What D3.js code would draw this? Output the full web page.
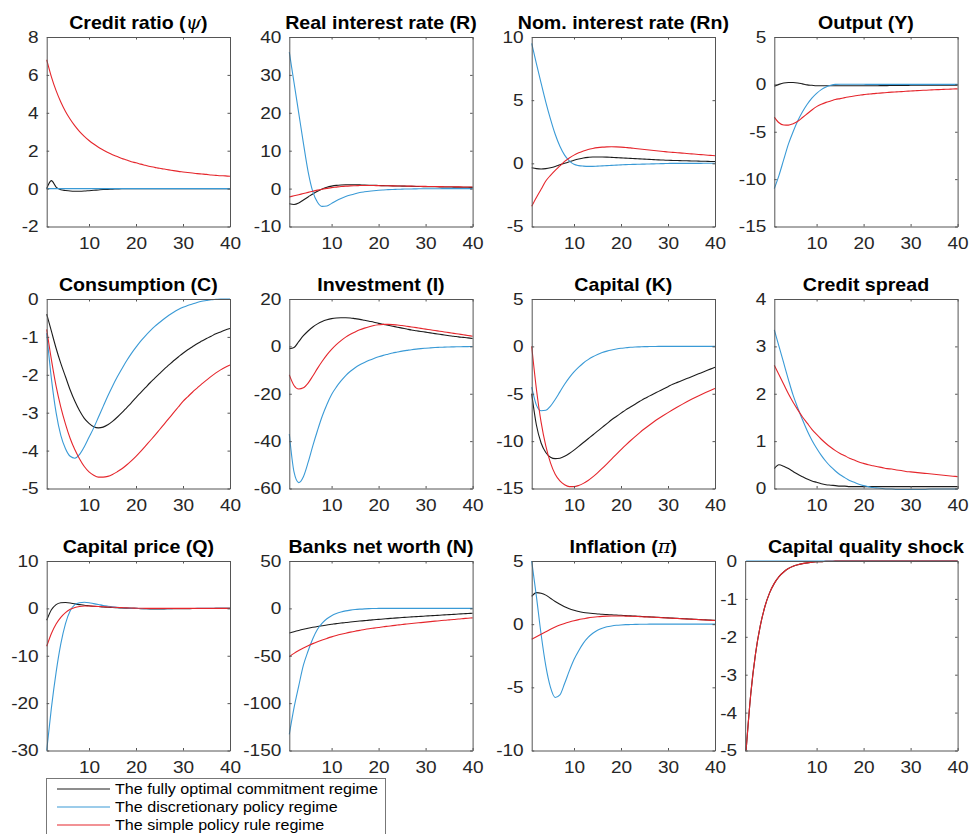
<!DOCTYPE html>
<html><head><meta charset="utf-8">
<script src="https://cdn.jsdelivr.net/npm/d3@7"></script>
<style>body{margin:0;background:#fff} svg{display:block}</style>
</head><body><svg id="c" width="973" height="834"></svg>
<script>
// ---------------- DATA ----------------
const periods = d3.range(1, 41);
const shockPeriods = d3.range(-5, 41);
const regimeNames = ["The fully optimal commitment regime", "The discretionary policy regime", "The simple policy rule regime"];
const xTicks = [10, 20, 30, 40];

// Credit ratio (psi)
const credit_commit = [0.00,0.42,0.08,-0.06,-0.10,-0.13,-0.14,-0.14,-0.13,-0.11, -0.09,-0.07,-0.05,-0.04,-0.03,-0.02,-0.01,-0.01,0,0, 0,0,0,0,0,0,0,0,0,0, 0,0,0,0,0,0,0,0,0,0];
const credit_disc   = [0,0,0,0,0,0,0,0,0,0, 0,0,0,0,0,0,0,0,0,0, 0,0,0,0,0,0,0,0,0,0, 0,0,0,0,0,0,0,0,0,0];
const credit_rule   = [6.80,5.90,5.17,4.57,4.07,3.66,3.31,3.01,2.76,2.54, 2.35,2.18,2.04,1.91,1.79,1.69,1.59,1.51,1.42,1.36, 1.29,1.23,1.17,1.12,1.07,1.03,0.99,0.95,0.91,0.88, 0.85,0.82,0.79,0.77,0.75,0.72,0.70,0.68,0.67,0.65];
const credit_ticks  = [-2,0,2,4,6,8];

// Real interest rate (R)
const real_commit = [-4.0,-4.2,-3.8,-3.0,-2.2,-1.4,-0.7,-0.1,0.35,0.65, 0.85,0.95,1.0,1.0,1.0,0.98,0.95,0.9,0.86,0.82, 0.78,0.75,0.72,0.69,0.66,0.63,0.6,0.57,0.54,0.52, 0.5,0.48,0.46,0.44,0.42,0.4,0.38,0.36,0.34,0.32];
const real_disc   = [36,28,20,12,4.5,-0.8,-3.6,-4.7,-4.6,-3.9, -3.2,-2.6,-2.1,-1.7,-1.35,-1.05,-0.85,-0.68,-0.55,-0.44, -0.35,-0.28,-0.22,-0.18,-0.14,-0.11,-0.09,-0.07,-0.05,-0.04, -0.03,-0.02,-0.02,-0.01,-0.01,0,0,0,0,0];
const real_rule   = [-2.2,-1.9,-1.6,-1.3,-1.0,-0.7,-0.4,-0.15,0.05,0.25, 0.4,0.55,0.65,0.72,0.77,0.8,0.81,0.81,0.8,0.78, 0.76,0.74,0.72,0.7,0.68,0.66,0.64,0.62,0.6,0.58, 0.56,0.54,0.52,0.5,0.48,0.47,0.45,0.44,0.42,0.41];
const real_ticks  = [-10,0,10,20,30,40];

// Nominal interest rate (Rn)
const nom_commit = [-0.35,-0.42,-0.45,-0.42,-0.35,-0.25,-0.12,0.0,0.12,0.24, 0.34,0.42,0.47,0.5,0.5,0.5,0.49,0.47,0.45,0.43, 0.41,0.39,0.37,0.35,0.33,0.31,0.29,0.27,0.26,0.24, 0.23,0.22,0.21,0.2,0.19,0.18,0.17,0.16,0.15,0.14];
const nom_disc   = [9.5,7.9,6.35,4.85,3.5,2.3,1.35,0.65,0.2,-0.08, -0.18,-0.22,-0.24,-0.24,-0.22,-0.2,-0.18,-0.16,-0.14,-0.12, -0.1,-0.09,-0.08,-0.07,-0.06,-0.05,-0.04,-0.03,-0.02,-0.01, 0,0,0,0,0,0,0,0.01,0.01,0.01];
const nom_rule   = [-3.4,-2.7,-2.05,-1.4,-0.95,-0.55,-0.2,0.15,0.42,0.65, 0.83,0.98,1.1,1.18,1.24,1.28,1.3,1.31,1.3,1.28, 1.25,1.22,1.18,1.14,1.1,1.06,1.02,0.98,0.94,0.9, 0.87,0.84,0.81,0.78,0.75,0.72,0.69,0.66,0.63,0.6];
const nom_ticks  = [-5,0,5,10];

// Output (Y)
const out_commit = [-0.2,0.0,0.15,0.2,0.2,0.15,0.05,-0.05,-0.1,-0.15, -0.15,-0.15,-0.15,-0.15,-0.15,-0.15,-0.15,-0.15,-0.15,-0.15, -0.15,-0.14,-0.14,-0.13,-0.13,-0.12,-0.12,-0.11,-0.11,-0.1, -0.1,-0.1,-0.1,-0.09,-0.09,-0.09,-0.09,-0.08,-0.08,-0.08];
const out_disc   = [-11.0,-9.6,-7.95,-6.3,-5.0,-3.85,-2.9,-2.1,-1.45,-0.95, -0.55,-0.28,-0.1,0.0,0.02,0.02,0.02,0.01,0.01,0.01, 0,0,0,0,0,0,0,0,0,0, 0,0,0,0,0,0,0,0,0,0];
const out_rule   = [-3.45,-4.05,-4.28,-4.3,-4.15,-3.9,-3.5,-3.1,-2.7,-2.35, -2.1,-1.9,-1.75,-1.6,-1.5,-1.4,-1.3,-1.22,-1.15,-1.08, -1.03,-0.98,-0.94,-0.9,-0.86,-0.82,-0.79,-0.76,-0.73,-0.7, -0.67,-0.64,-0.62,-0.6,-0.57,-0.55,-0.53,-0.51,-0.49,-0.47];
const out_ticks  = [-15,-10,-5,0,5];

// Consumption (C)
const cons_commit = [-0.4,-0.85,-1.3,-1.7,-2.05,-2.4,-2.7,-2.95,-3.15,-3.28, -3.37,-3.4,-3.38,-3.32,-3.23,-3.12,-3.0,-2.87,-2.74,-2.6, -2.47,-2.34,-2.21,-2.09,-1.97,-1.85,-1.74,-1.63,-1.53,-1.43, -1.34,-1.26,-1.18,-1.11,-1.04,-0.98,-0.92,-0.87,-0.82,-0.78];
const cons_disc   = [-0.9,-2.1,-3.0,-3.6,-3.95,-4.15,-4.2,-4.1,-3.9,-3.65, -3.4,-3.12,-2.84,-2.56,-2.3,-2.06,-1.84,-1.63,-1.44,-1.27, -1.11,-0.97,-0.84,-0.72,-0.62,-0.52,-0.43,-0.35,-0.28,-0.22, -0.17,-0.13,-0.09,-0.06,-0.04,-0.02,-0.01,0,0,0];
const cons_rule   = [-0.8,-1.6,-2.3,-2.85,-3.3,-3.68,-3.98,-4.22,-4.42,-4.56, -4.65,-4.7,-4.7,-4.68,-4.63,-4.56,-4.48,-4.38,-4.27,-4.15, -4.02,-3.88,-3.74,-3.6,-3.45,-3.3,-3.15,-3.0,-2.85,-2.7, -2.58,-2.46,-2.35,-2.24,-2.14,-2.04,-1.95,-1.87,-1.8,-1.74];
const cons_ticks  = [-5,-4,-3,-2,-1,0];

// Investment (I)
const inv_commit = [-1,-0.5,2,4.5,6.5,8.2,9.5,10.5,11.2,11.7, 12.0,12.1,12.1,12.0,11.7,11.4,11.0,10.6,10.2,9.7, 9.3,8.9,8.5,8.1,7.7,7.3,6.9,6.6,6.3,6.0, 5.7,5.4,5.1,4.8,4.5,4.3,4.0,3.8,3.6,3.3];
const inv_disc   = [-37,-53,-57.5,-55,-49,-42,-35.5,-29.5,-24.5,-20.3, -17.2,-14.6,-12.3,-10.5,-9.0,-7.8,-6.8,-5.9,-5.1,-4.4, -3.8,-3.3,-2.8,-2.4,-2.0,-1.7,-1.4,-1.15,-0.95,-0.78, -0.63,-0.5,-0.4,-0.32,-0.25,-0.2,-0.15,-0.12,-0.09,-0.07];
const inv_rule   = [-12,-16.5,-18,-17.5,-15.5,-12.5,-9.3,-6.3,-3.6,-1.3, 0.7,2.4,3.9,5.1,6.1,7.0,7.7,8.3,8.8,9.1, 9.3,9.3,9.2,9.0,8.8,8.5,8.2,7.9,7.6,7.3, 7.0,6.7,6.4,6.1,5.8,5.5,5.2,4.9,4.6,4.3];
const inv_ticks  = [-60,-40,-20,0,20];

// Capital (K)
const cap_commit = [-5,-8.3,-10.2,-11.2,-11.7,-11.85,-11.8,-11.6,-11.3,-10.95, -10.55,-10.15,-9.75,-9.35,-8.95,-8.55,-8.15,-7.75,-7.4,-7.05, -6.7,-6.4,-6.1,-5.8,-5.5,-5.25,-5.0,-4.75,-4.5,-4.25, -4.0,-3.8,-3.6,-3.4,-3.2,-3.0,-2.8,-2.6,-2.4,-2.2];
const cap_disc   = [-4.3,-6.2,-6.8,-6.75,-6.3,-5.6,-4.8,-4.0,-3.3,-2.7, -2.2,-1.75,-1.4,-1.1,-0.85,-0.65,-0.5,-0.38,-0.28,-0.2, -0.15,-0.1,-0.07,-0.05,-0.03,-0.02,-0.01,0,0,0, 0,0,0,0,0,0,0,0,0,0];
const cap_rule   = [0,-4.5,-8.0,-10.5,-12.3,-13.5,-14.2,-14.6,-14.8,-14.8, -14.68,-14.46,-14.16,-13.78,-13.35,-12.88,-12.39,-11.89,-11.39,-10.9, -10.42,-9.96,-9.52,-9.10,-8.70,-8.32,-7.96,-7.62,-7.30,-6.99, -6.69,-6.40,-6.12,-5.85,-5.59,-5.34,-5.10,-4.87,-4.65,-4.44];
const cap_ticks  = [-15,-10,-5,0,5];

// Credit spread
const spread_commit = [0.42,0.5,0.47,0.42,0.36,0.3,0.25,0.2,0.16,0.13, 0.1,0.08,0.07,0.06,0.05,0.05,0.04,0.04,0.04,0.04, 0.04,0.04,0.04,0.04,0.04,0.04,0.04,0.04,0.04,0.04, 0.04,0.04,0.04,0.04,0.04,0.04,0.04,0.04,0.04,0.04];
const spread_disc   = [3.35,3.0,2.65,2.3,1.97,1.7,1.45,1.22,1.02,0.85, 0.7,0.57,0.46,0.37,0.29,0.23,0.17,0.13,0.09,0.06, 0.04,0.02,0.01,0.0,-0.01,-0.01,-0.02,-0.02,-0.02,-0.02, -0.02,-0.02,-0.02,-0.01,-0.01,-0.01,-0.01,-0.01,-0.01,-0.01];
const spread_rule   = [2.6,2.4,2.2,2.0,1.82,1.66,1.51,1.38,1.25,1.14, 1.04,0.95,0.87,0.8,0.74,0.69,0.64,0.6,0.56,0.53, 0.5,0.48,0.46,0.44,0.42,0.41,0.39,0.38,0.36,0.35, 0.34,0.33,0.32,0.31,0.3,0.29,0.28,0.27,0.26,0.25];
const spread_ticks  = [0,1,2,3,4];

// Capital price (Q)
const q_commit = [-2.5,-0.3,0.8,1.2,1.25,1.15,0.95,0.8,0.65,0.55, 0.45,0.38,0.3,0.24,0.18,0.13,0.09,0.05,0.02,0, -0.05,-0.08,-0.1,-0.1,-0.1,-0.1,-0.09,-0.08,-0.07,-0.06, -0.05,-0.04,-0.03,-0.03,-0.02,-0.02,-0.01,-0.01,-0.01,0];
const q_disc   = [-30,-21,-13.5,-7.5,-3.2,-0.5,0.8,1.2,1.3,1.2, 1.0,0.8,0.6,0.45,0.32,0.22,0.14,0.08,0.04,0.0, -0.03,-0.05,-0.06,-0.06,-0.06,-0.05,-0.05,-0.04,-0.03,-0.03, -0.02,-0.02,-0.01,-0.01,-0.01,0,0,0,0,0];
const q_rule   = [-8,-5.3,-3.3,-1.9,-0.9,-0.2,0.2,0.4,0.5,0.5, 0.45,0.4,0.35,0.3,0.25,0.2,0.15,0.1,0.07,0.04, 0.02,0,0,0,0,0,0,0,0,0, 0,0,0,0,0,0,0,0,0,0];
const q_ticks  = [-30,-20,-10,0,10];

// Banks net worth (N)
const nw_commit = [-26,-24.6,-23.3,-22.1,-21,-20,-19.1,-18.3,-17.5,-16.8, -16.1,-15.5,-14.9,-14.4,-13.9,-13.4,-12.9,-12.4,-12,-11.6, -11.2,-10.8,-10.4,-10.0,-9.7,-9.3,-9.0,-8.7,-8.4,-8.1, -7.8,-7.5,-7.2,-6.9,-6.6,-6.3,-6.0,-5.7,-5.4,-5.1];
const nw_disc   = [-133,-105,-82,-60,-45,-32,-22,-15.5,-11,-7.7, -5.4,-3.8,-2.6,-1.8,-1.2,-0.8,-0.5,-0.3,-0.15,-0.05, 0,0,0,0,0,0,0,0,0,0, 0,0,0,0,0,0,0,0,0,0];
const nw_rule   = [-51,-47.5,-44.5,-41.8,-39.4,-37.2,-35.2,-33.4,-31.7,-30.1, -28.7,-27.4,-26.2,-25.1,-24.1,-23.2,-22.3,-21.5,-20.8,-20.1, -19.4,-18.8,-18.2,-17.6,-17.0,-16.5,-16.0,-15.5,-15.0,-14.5, -14.0,-13.5,-13.0,-12.5,-12.1,-11.7,-11.2,-10.8,-10.4,-10.0];
const nw_ticks  = [-150,-100,-50,0,50];

// Inflation (pi)
const infl_commit = [2.2,2.5,2.45,2.3,2.05,1.8,1.58,1.38,1.22,1.1, 1.0,0.93,0.88,0.84,0.81,0.78,0.76,0.74,0.72,0.7, 0.68,0.66,0.64,0.62,0.6,0.58,0.56,0.54,0.52,0.5, 0.48,0.46,0.44,0.42,0.4,0.38,0.36,0.34,0.32,0.3];
const infl_disc   = [5.0,2.2,-0.8,-3.3,-5.0,-5.8,-5.6,-4.7,-3.7,-2.8, -2.1,-1.5,-1.05,-0.72,-0.48,-0.32,-0.21,-0.14,-0.09,-0.06, -0.04,-0.03,-0.02,-0.01,-0.01,0,0,0,0,0, 0,0,0,0,0,0,0,0,0,0];
const infl_rule   = [-1.2,-1.0,-0.8,-0.6,-0.4,-0.22,-0.07,0.06,0.17,0.27, 0.36,0.43,0.5,0.55,0.59,0.62,0.64,0.65,0.65,0.65, 0.64,0.63,0.62,0.6,0.58,0.57,0.55,0.53,0.51,0.49, 0.47,0.45,0.43,0.41,0.39,0.37,0.35,0.33,0.31,0.29];
const infl_ticks  = [-10,-5,0,5];

// Capital quality shock (plotted from period -5)
const shock_commit = [-5,-3.5,-2.45,-1.72,-1.2,-0.84,-0.59,-0.41,-0.29,-0.2, -0.14,-0.1,-0.07,-0.05,-0.03,-0.02,-0.02,-0.01,-0.01,0, 0,0,0,0,0,0,0,0,0,0, 0,0,0,0,0,0,0,0,0,0, 0,0,0,0,0,0];
const shock_disc   = [0,0,0,0,0,0,0,0,0,0, 0,0,0,0,0,0,0,0,0,0, 0,0,0,0,0,0,0,0,0,0, 0,0,0,0,0,0,0,0,0,0, 0,0,0,0,0,0];
const shock_rule   = [-5,-3.5,-2.45,-1.72,-1.2,-0.84,-0.59,-0.41,-0.29,-0.2, -0.14,-0.1,-0.07,-0.05,-0.03,-0.02,-0.02,-0.01,-0.01,0, 0,0,0,0,0,0,0,0,0,0, 0,0,0,0,0,0,0,0,0,0, 0,0,0,0,0,0];
const shock_ticks  = [-5,-4,-3,-2,-1,0];

// ---------------- CHART ----------------
const colors = ["#1c1c1c", "#3a9ad6", "#e5262c"];
const panels = [
  {title: ["Credit ratio (", "ψ", ")"], ticks: credit_ticks, s: [credit_commit, credit_disc, credit_rule]},
  {title: ["Real interest rate (R)"], ticks: real_ticks, s: [real_commit, real_disc, real_rule]},
  {title: ["Nom. interest rate (Rn)"], ticks: nom_ticks, s: [nom_commit, nom_disc, nom_rule]},
  {title: ["Output (Y)"], ticks: out_ticks, s: [out_commit, out_disc, out_rule]},
  {title: ["Consumption (C)"], ticks: cons_ticks, s: [cons_commit, cons_disc, cons_rule]},
  {title: ["Investment (I)"], ticks: inv_ticks, s: [inv_commit, inv_disc, inv_rule]},
  {title: ["Capital (K)"], ticks: cap_ticks, s: [cap_commit, cap_disc, cap_rule]},
  {title: ["Credit spread"], ticks: spread_ticks, s: [spread_commit, spread_disc, spread_rule]},
  {title: ["Capital price (Q)"], ticks: q_ticks, s: [q_commit, q_disc, q_rule]},
  {title: ["Banks net worth (N)"], ticks: nw_ticks, s: [nw_commit, nw_disc, nw_rule]},
  {title: ["Inflation (", "π", ")"], ticks: infl_ticks, s: [infl_commit, infl_disc, infl_rule]},
  {title: ["Capital quality shock"], ticks: shock_ticks, s: [shock_commit, shock_disc, shock_rule], t: shockPeriods, xmin: -5.2},
];

const colLeft = [46.7, 289.3, 531.7, 774.3];
const rowTop = [37, 299, 561];
const W = 183.3, H = 189.5;
const pxPerPeriod = W / 39;
const SX = 1.12;
const axisColor = "#555";
const tickLen = 2.5;
const font = "'Liberation Sans', Arial, Helvetica, sans-serif";

const svg = d3.select("#c");

function stretchTicks(g) {
  g.selectAll(".tick text").each(function() {
    const t = d3.select(this);
    const x = +t.attr("x") || 0, y = +t.attr("y") || 0;
    t.attr("x", null).attr("y", null)
     .attr("transform", `translate(${x},${y}) scale(${SX},1)`);
  });
}

panels.forEach((p, i) => {
  const col = i % 4, row = Math.floor(i / 4);
  const xmin = p.xmin !== undefined ? p.xmin : 1;
  const extra = (1 - xmin) * pxPerPeriod;      // extra width to the left
  const w = W + extra;
  const g = svg.append("g").attr("transform", `translate(${colLeft[col] - extra},${rowTop[row]})`);
  const x = d3.scaleLinear().domain([xmin, 40]).range([0, w]);
  const y = d3.scaleLinear().domain([p.ticks[0], p.ticks[p.ticks.length - 1]]).range([H, 0]);
  const tt = p.t || periods;

  const line = d3.line().x((d, k) => x(tt[k])).y(d => y(d)).curve(d3.curveMonotoneX);
  p.s.forEach((arr, k) => {
    g.append("path").attr("d", line(arr)).attr("fill", "none")
      .attr("stroke", colors[k]).attr("stroke-width", 1.1);
  });

  const fmt = d => String(d);
  const styleAxis = a => {
    a.selectAll("path.domain").attr("stroke", axisColor).attr("stroke-width", 1);
    a.selectAll(".tick line").attr("stroke", axisColor);
    a.selectAll(".tick text").attr("fill", "#262626").attr("font-size", 17).attr("font-family", font);
  };
  const ax = g.append("g").attr("transform", `translate(0,${H})`)
    .call(d3.axisBottom(x).tickValues(xTicks).tickSize(-tickLen).tickSizeOuter(0).tickPadding(10).tickFormat(fmt));
  styleAxis(ax); stretchTicks(ax);
  const ay = g.append("g")
    .call(d3.axisLeft(y).tickValues(p.ticks).tickSize(-tickLen).tickSizeOuter(0).tickPadding(8).tickFormat(fmt));
  styleAxis(ay); stretchTicks(ay);
  const at = g.append("g")
    .call(d3.axisTop(x).tickValues(xTicks).tickSize(-tickLen).tickSizeOuter(0).tickFormat(""));
  styleAxis(at);
  const ar = g.append("g").attr("transform", `translate(${w},0)`)
    .call(d3.axisRight(y).tickValues(p.ticks).tickSize(-tickLen).tickSizeOuter(0).tickFormat(""));
  styleAxis(ar);

  const t = g.append("text")
    .attr("transform", `translate(${extra + W / 2},-8.5) scale(1.06,1)`)
    .attr("text-anchor", "middle").attr("font-family", font)
    .attr("font-size", 18.5).attr("font-weight", "bold").attr("fill", "#000");
  p.title.forEach((part, k) => {
    const ts = t.append("tspan").text(part);
    if (k === 1) ts.attr("font-style", "italic").attr("font-weight", "normal").attr("font-family", "'DejaVu Serif', serif");
  });
});

// legend
const lg = svg.append("g");
lg.append("rect").attr("x", 46.5).attr("y", 778.5).attr("width", 339).attr("height", 70)
  .attr("fill", "#fff").attr("stroke", "#777").attr("stroke-width", 1);
const legendY = d3.scalePoint().domain(regimeNames).range([789, 825]);
regimeNames.forEach((name, k) => {
  const yy = legendY(name);
  lg.append("line").attr("x1", 57).attr("x2", 110).attr("y1", yy).attr("y2", yy)
    .attr("stroke", colors[k]).attr("stroke-width", 1.1);
  lg.append("text").attr("transform", `translate(115,${yy + 5}) scale(1.15,1)`)
    .attr("font-family", font).attr("font-size", 14).attr("fill", "#000").text(name);
});
</script></body></html>
